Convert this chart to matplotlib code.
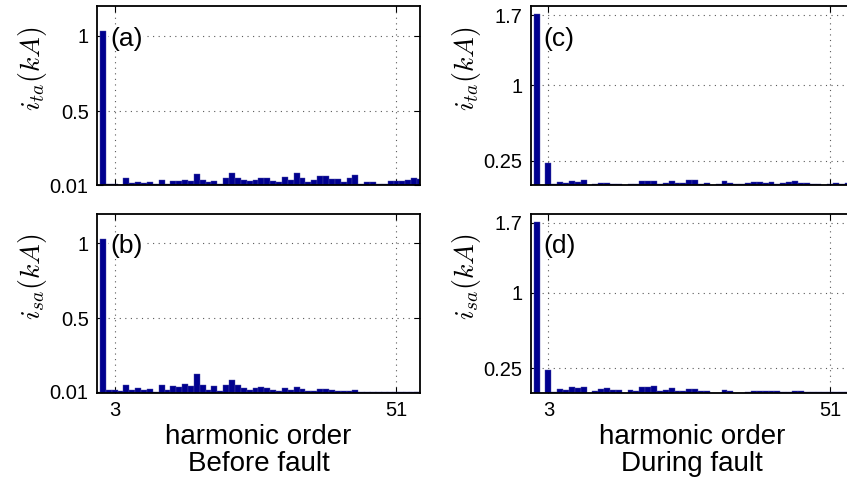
"""Harmonic spectra of the transformer / source phase-a currents, before and during the fault."""
import matplotlib

matplotlib.use("Agg")
import matplotlib.pyplot as plt
import numpy as np

plt.rcParams["font.family"] = ["Liberation Sans", "DejaVu Sans"]
plt.rcParams["mathtext.fontset"] = "cm"

BAR_COLOR = "#00008f"
GRID_COLOR = "0.35"

# harmonic orders 1..55
HARMONICS = list(range(1, 56))

# i_ta before fault (kA), panel (a)
ITA_BEFORE = [
    1.035, 0.019, 0.019, 0.012, 0.055, 0.023, 0.032, 0.021, 0.028, 0.014,
    0.043, 0.019, 0.037, 0.037, 0.046, 0.037, 0.086, 0.041, 0.028, 0.039,
    0.017, 0.055, 0.088, 0.059, 0.046, 0.037, 0.046, 0.059, 0.055, 0.037,
    0.028, 0.066, 0.041, 0.088, 0.059, 0.028, 0.041, 0.072, 0.072, 0.050,
    0.050, 0.032, 0.055, 0.079, 0.014, 0.028, 0.032, 0.019, 0.019, 0.037,
    0.037, 0.037, 0.043, 0.055, 0.050,
]
# i_sa before fault (kA), panel (b)
ISA_BEFORE = [
    1.029, 0.021, 0.021, 0.016, 0.058, 0.021, 0.034, 0.021, 0.027, 0.012,
    0.056, 0.023, 0.049, 0.045, 0.063, 0.049, 0.127, 0.054, 0.025, 0.052,
    0.016, 0.056, 0.087, 0.054, 0.034, 0.025, 0.034, 0.043, 0.038, 0.023,
    0.016, 0.036, 0.021, 0.041, 0.027, 0.014, 0.016, 0.027, 0.027, 0.021,
    0.018, 0.014, 0.018, 0.025, 0.007, 0.012, 0.012, 0.007, 0.007, 0.009,
    0.012, 0.009, 0.009, 0.012, 0.012,
]
# i_ta during fault (kA), panel (c)
ITA_DURING = [
    1.706, 0.000, 0.230, 0.017, 0.037, 0.027, 0.047, 0.040, 0.054, 0.010,
    0.020, 0.030, 0.030, 0.020, 0.020, 0.010, 0.020, 0.020, 0.047, 0.047,
    0.047, 0.020, 0.030, 0.047, 0.024, 0.030, 0.054, 0.054, 0.020, 0.027,
    0.010, 0.020, 0.044, 0.027, 0.020, 0.020, 0.030, 0.040, 0.040, 0.027,
    0.037, 0.020, 0.027, 0.037, 0.050, 0.030, 0.027, 0.020, 0.020, 0.010,
    0.020, 0.027, 0.014, 0.024, 0.017,
]
# i_sa during fault (kA), panel (d)
ISA_DURING = [
    1.707, 0.000, 0.237, 0.017, 0.044, 0.034, 0.060, 0.054, 0.064, 0.005,
    0.020, 0.044, 0.050, 0.034, 0.034, 0.005, 0.037, 0.027, 0.067, 0.067,
    0.070, 0.020, 0.034, 0.050, 0.024, 0.024, 0.044, 0.044, 0.024, 0.024,
    0.005, 0.005, 0.030, 0.020, 0.005, 0.005, 0.010, 0.024, 0.020, 0.020,
    0.020, 0.020, 0.010, 0.010, 0.020, 0.027, 0.010, 0.010, 0.014, 0.014,
    0.010, 0.010, 0.010, 0.010, 0.010,
]

XTICKS = [3, 51]
YTICKS_BEFORE = [0.01, 0.5, 1]
YTICK_LABELS_BEFORE = ["0.01", "0.5", "1"]
YTICKS_DURING = [0.25, 1, 1.7]
YTICK_LABELS_DURING = ["0.25", "1", "1.7"]


def _panel(ax, values, tag, ylabel, yticks, ylabels, ylim, show_x):
    ax.bar(HARMONICS, values, width=1.0, color=BAR_COLOR,
           edgecolor="#4b4ba6", linewidth=0.3, zorder=2)
    ax.set_xlim(0, 55)
    ax.set_ylim(*ylim)
    ax.set_xticks(XTICKS)
    ax.set_yticks(yticks)
    ax.set_yticklabels(ylabels)
    if show_x:
        ax.set_xticklabels([str(t) for t in XTICKS])
    else:
        ax.set_xticklabels([])
    ax.tick_params(direction="in", length=4, width=0.8, top=True, right=True,
                   labelsize=14.5, pad=6)
    ax.grid(True, linestyle=(0, (1, 4)), color=GRID_COLOR, linewidth=0.8)
    ax.set_axisbelow(True)
    for sp in ax.spines.values():
        sp.set_linewidth(1.3)
    ax.set_ylabel(ylabel, fontsize=20, va="center")
    ax.yaxis.set_label_coords(-0.2, 0.65)
    ax.text(0.04, 0.82, tag, transform=ax.transAxes, fontsize=19,
            ha="left", va="center", zorder=5,
            bbox=dict(facecolor="white", edgecolor="none", pad=0.5))


fig = plt.figure(figsize=(8.47, 4.90), dpi=100)
w = 0.3813
h = 0.3645
ax_a = fig.add_axes([0.1145, 0.6224, w, h])
ax_b = fig.add_axes([0.1145, 0.1986, w, h])
ax_c = fig.add_axes([0.6266, 0.6224, w, h])
ax_d = fig.add_axes([0.6266, 0.1986, w, h])

_panel(ax_a, ITA_BEFORE, "(a)", r"$i_{ta}(kA)$", YTICKS_BEFORE,
       YTICK_LABELS_BEFORE, (0.01, 1.196), False)
_panel(ax_b, ISA_BEFORE, "(b)", r"$i_{sa}(kA)$", YTICKS_BEFORE,
       YTICK_LABELS_BEFORE, (0.005, 1.195), True)
_panel(ax_c, ITA_DURING, "(c)", r"$i_{ta}(kA)$", YTICKS_DURING,
       YTICK_LABELS_DURING, (0.007, 1.786), False)
_panel(ax_d, ISA_DURING, "(d)", r"$i_{sa}(kA)$", YTICKS_DURING,
       YTICK_LABELS_DURING, (0.007, 1.786), True)

for ax, cond in [(ax_b, "Before fault"), (ax_d, "During fault")]:
    ax.set_xlabel("harmonic order\n" + cond, fontsize=20, linespacing=1.05,
                  va="top")
    ax.xaxis.set_label_coords(0.5, -0.175)

fig.savefig("out.png", dpi=100)
